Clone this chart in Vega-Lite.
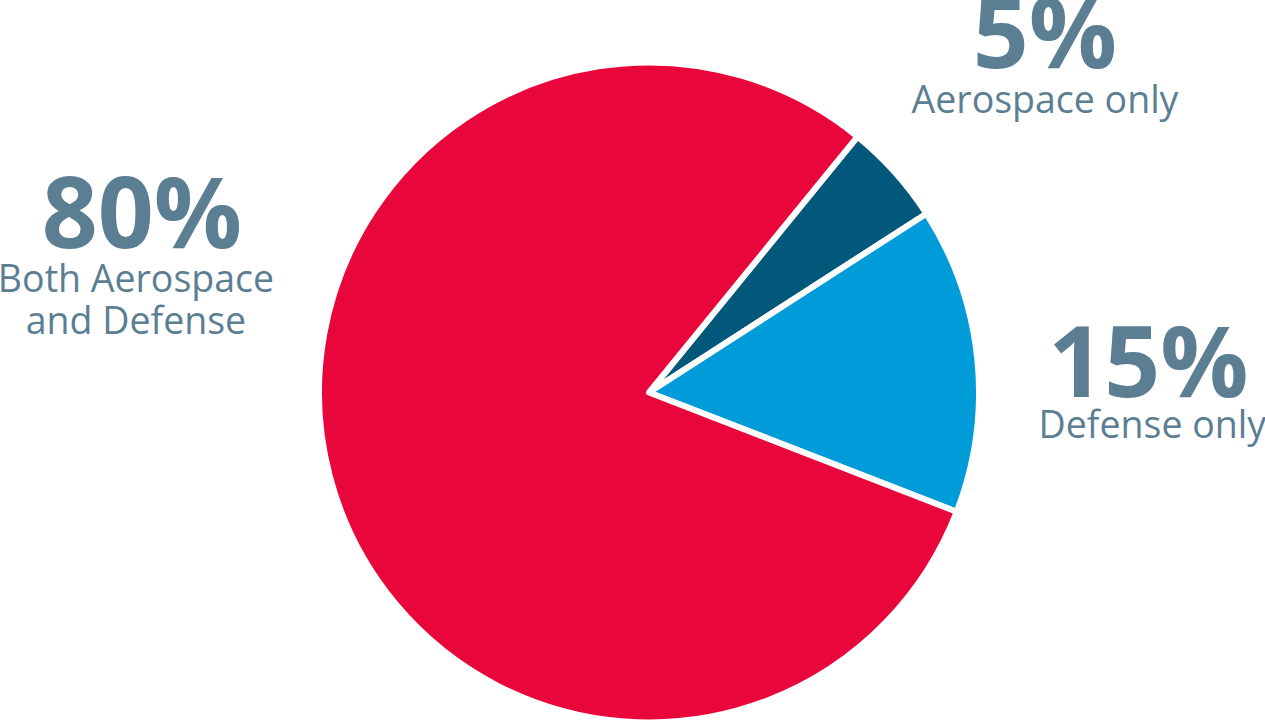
{
  "$schema": "https://vega.github.io/schema/vega-lite/v6.json",
  "width": 1232,
  "height": 657,
  "autosize": {"type": "none"},
  "padding": {"left": 33, "top": 64, "right": 0, "bottom": 0},
  "background": "white",
  "view": {"stroke": null},
  "data": {
    "values": [
      {"rank": 1, "category": "Aerospace only", "pct": 5, "label": "5%", "caption": "Aerospace only"},
      {"rank": 2, "category": "Defense only", "pct": 15, "label": "15%", "caption": "Defense only"},
      {"rank": 3, "category": "Both Aerospace and Defense", "pct": 80, "label": "80%", "caption": "Both Aerospace\nand Defense"}
    ]
  },
  "encoding": {
    "theta": {"field": "pct", "type": "quantitative", "stack": true, "scale": {"range": [0.684, 6.967]}},
    "order": {"field": "rank", "type": "quantitative"}
  },
  "layer": [
    {
      "mark": {"type": "arc", "outerRadius": 330, "stroke": "white", "strokeWidth": 6, "strokeJoin": "round"},
      "encoding": {
        "color": {
          "field": "category", "type": "nominal", "legend": null,
          "scale": {"domain": ["Aerospace only", "Defense only", "Both Aerospace and Defense"], "range": ["#01587A", "#009BD9", "#E8063A"]}
        }
      }
    },
    {
      "mark": {"type": "text", "radius": 330, "dx": 150, "dy": -105, "font": "Open Sans", "fontWeight": "bold", "fontSize": 98, "align": "center", "baseline": "alphabetic", "color": "#5B7E93"},
      "encoding": {"text": {"condition": {"test": "datum.rank === 1", "field": "label"}, "value": ""}}
    },
    {
      "mark": {"type": "text", "radius": 330, "dx": 150, "dy": -60, "font": "Open Sans", "fontSize": 37.5, "align": "center", "baseline": "alphabetic", "color": "#5B7E93"},
      "encoding": {"text": {"condition": {"test": "datum.rank === 1", "field": "caption"}, "value": ""}}
    },
    {
      "mark": {"type": "text", "radius": 330, "dx": 171, "dy": 38, "font": "Open Sans", "fontWeight": "bold", "fontSize": 98, "align": "center", "baseline": "alphabetic", "color": "#5B7E93"},
      "encoding": {"text": {"condition": {"test": "datum.rank === 2", "field": "label"}, "value": ""}}
    },
    {
      "mark": {"type": "text", "radius": 330, "dx": 175, "dy": 79, "font": "Open Sans", "fontSize": 37.5, "align": "center", "baseline": "alphabetic", "color": "#5B7E93"},
      "encoding": {"text": {"condition": {"test": "datum.rank === 2", "field": "caption"}, "value": ""}}
    },
    {
      "mark": {"type": "text", "radius": 330, "dx": -188, "dy": -229, "font": "Open Sans", "fontWeight": "bold", "fontSize": 98, "align": "center", "baseline": "alphabetic", "color": "#5B7E93"},
      "encoding": {"text": {"condition": {"test": "datum.rank === 3", "field": "label"}, "value": ""}}
    },
    {
      "mark": {"type": "text", "radius": 330, "dx": -194, "dy": -185, "font": "Open Sans", "fontSize": 37.5, "align": "center", "baseline": "alphabetic", "lineBreak": "\n", "lineHeight": 42, "color": "#5B7E93"},
      "encoding": {"text": {"condition": {"test": "datum.rank === 3", "field": "caption"}, "value": ""}}
    }
  ]
}
